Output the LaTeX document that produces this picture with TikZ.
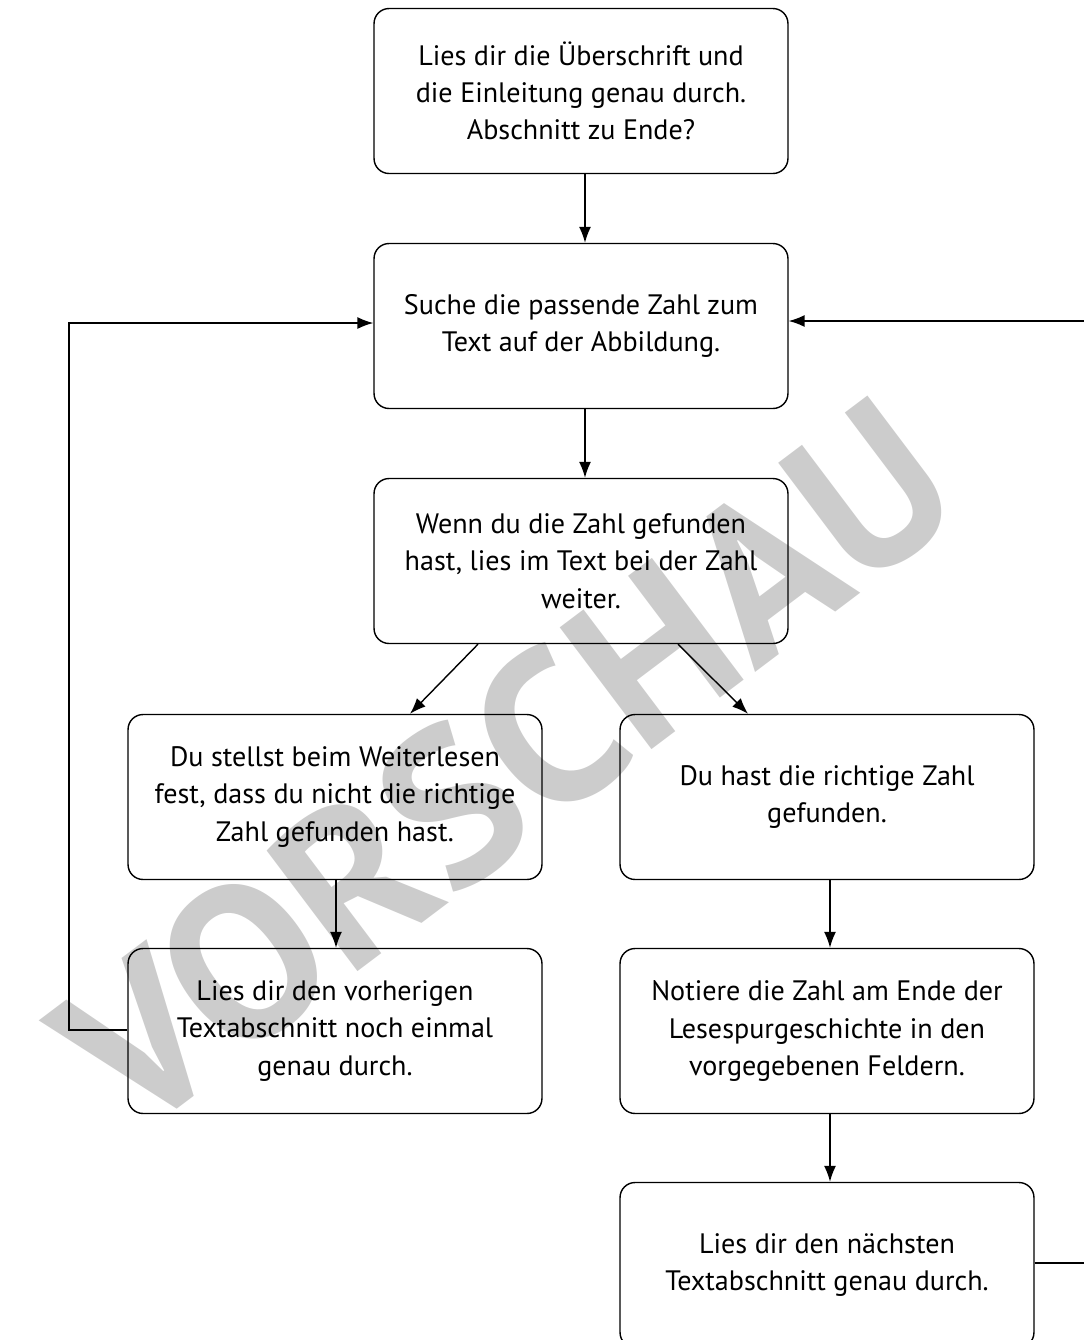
\documentclass[tikz,border=0pt]{standalone}
\usepackage{fontspec}
\setmainfont{PT Sans}
\usepackage{tikz}
\usetikzlibrary{arrows.meta}
\definecolor{WmGray}{RGB}{204,204,204}

\tikzset{
	stepbox/.style={draw, thick, rounded corners=0.3cm, minimum width=8.28cm, minimum height=3.3cm, align=center, font=\fontsize{16}{21.2}\selectfont, inner sep=0pt},
	flow/.style={-{Latex[length=0.32cm,width=0.24cm]}, thick}
}

\begin{document}
\begin{tikzpicture}[x=0.02cm, y=-0.02cm]
		\useasboundingbox (0,0) rectangle (1083,1340);
		% Wasserzeichen
		\node[WmGray, rotate=37, font=\fontsize{124}{124}\selectfont\bfseries] (wm) at (505,765) {VORSCHAU};
		% Kaesten
		\node[stepbox] (intro) at (581,91) {Lies dir die Überschrift und\\die Einleitung genau durch.\\Abschnitt zu Ende?};
		\node[stepbox] (search) at (581,326) {Suche die passende Zahl zum\\Text auf der Abbildung.};
		\node[stepbox] (found) at (581,561) {Wenn du die Zahl gefunden\\hast, lies im Text bei der Zahl\\weiter.};
		\node[stepbox] (wrong) at (335,797) {Du stellst beim Weiterlesen\\fest, dass du nicht die richtige\\Zahl gefunden hast.};
		\node[stepbox] (right) at (827,797) {Du hast die richtige Zahl\\gefunden.};
		\node[stepbox] (reread) at (335,1031) {Lies dir den vorherigen\\Textabschnitt noch einmal\\genau durch.};
		\node[stepbox] (note) at (827,1031) {Notiere die Zahl am Ende der\\Lesespurgeschichte in den\\vorgegebenen Feldern.};
		\node[stepbox] (next) at (827,1265) {Lies dir den nächsten\\Textabschnitt genau durch.};
		% Pfeile
		\coordinate (lb) at (69,1030);
		\coordinate (lt) at (69,323);
		\coordinate (rb) at (1092,1263);
		\coordinate (rt) at (1092,321);
		\draw[flow] (intro.south -| 585,0) -- (search.north -| 585,0);
		\draw[flow] (search.south -| 585,0) -- (found.north -| 585,0);
		\draw[flow] (found.south -| 478,0) -- (wrong.north -| 410,0);
		\draw[flow] (found.south -| 678,0) -- (right.north -| 748,0);
		\draw[flow] (wrong.south -| 336,0) -- (reread.north -| 336,0);
		\draw[flow] (right.south -| 830,0) -- (note.north -| 830,0);
		\draw[flow] (note.south -| 830,0) -- (next.north -| 830,0);
		\draw[flow] (reread.west |- lb) -- (lb) -- (lt) -- (search.west |- lt);
		\draw[flow] (next.east |- rb) -- (rb) -- (rt) -- (search.east |- rt);
	\end{tikzpicture}
\end{document}
